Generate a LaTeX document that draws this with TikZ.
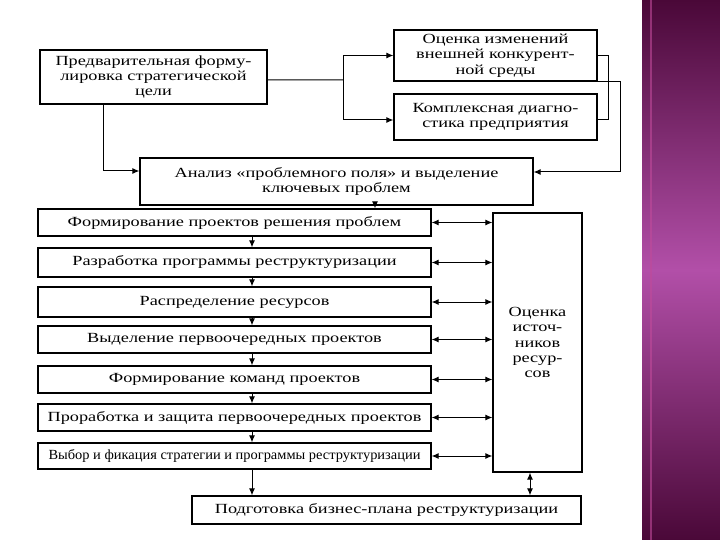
\documentclass[tikz,border=0pt]{standalone}
\usepackage{fontspec}
\usepackage{graphicx}
\usetikzlibrary{arrows.meta}
\newfontfamily\rf[FakeStretch=1.31]{Liberation Serif}
\definecolor{purpdark}{HTML}{4A0838}
\definecolor{purpmid}{HTML}{B24FA8}
\definecolor{purpline}{HTML}{C04A9A}
\tikzset{
  box/.style={draw=black, line width=1.3bp, fill=white, align=center, inner sep=1bp,
    font=\rf\fontsize{14}{15.5}\selectfont, text=black},
  conn/.style={draw=black, line width=1bp},
  arr/.style={conn, -{Latex[length=7bp,width=6bp]}},
  dbl/.style={conn, {Latex[length=7bp,width=6bp]}-{Latex[length=7bp,width=6bp]}},
}
\begin{document}
\begin{tikzpicture}[x=1bp,y=-1bp]
\useasboundingbox (0,0) rectangle (720,540);
\fill[white] (0,0) rectangle (720,540);
\shade[top color=purpdark, bottom color=purpdark, middle color=purpmid] (642,0) rectangle (720,540);
\draw[purpline, line width=2bp, opacity=0.6] (651,0) -- (651,540);

\node[box, minimum width=227bp, minimum height=54bp] (b1) at (153.5,77) {Предварительная форму-\\лировка стратегической\\цели};
\node[box, minimum width=203bp, minimum height=51bp] (b2) at (495.5,55.5) {Оценка изменений\\внешней конкурент-\\ной среды};
\node[box, minimum width=203bp, minimum height=46bp] (b3) at (495.5,117) {Комплексная диагно-\\стика предприятия};
\node[box, minimum width=393bp, minimum height=47bp] (b4) at (336.5,181.5) {Анализ «проблемного поля» и выделение\\ключевых проблем};

\node[box, minimum width=393bp, minimum height=27bp] (r1) at (234.5,222.5) {Формирование проектов решения проблем};
\node[box, minimum width=393bp, minimum height=29bp] (r2) at (234.5,262.5) {Разработка программы реструктуризации};
\node[box, minimum width=393bp, minimum height=30bp] (r3) at (234.5,302) {Распределение ресурсов};
\node[box, minimum width=393bp, minimum height=27bp] (r4) at (234.5,339.5) {Выделение первоочередных проектов};
\node[box, minimum width=393bp, minimum height=27bp] (r5) at (234.5,379.5) {Формирование команд проектов};
\node[box, minimum width=393bp, minimum height=27bp] (r6) at (234.5,417.5) {Проработка и защита первоочередных проектов};
\node[box, minimum width=393bp, minimum height=26bp] (r7) at (234.5,456) {\scalebox{0.79}[1]{Выбор и фикация стратегии и программы реструктуризации}};
\node[box, minimum width=389bp, minimum height=28bp] (r8) at (386.5,510) {Подготовка бизнес-плана реструктуризации};
\node[box, minimum width=89bp, minimum height=259bp] (oc) at (537.5,342.5) {Оценка\\источ-\\ников\\ресур-\\сов};

% left fork from b1
\coordinate (j1) at (343,80);
\draw[conn] ([yshift=-3bp]b1.east) -- (j1);
\draw[arr] (j1) |- (b2.west);
\draw[arr] (j1) |- ([yshift=-3bp]b3.west);
\coordinate (k1) at (103,0);
\draw[arr] (b1.south -| k1) |- ([yshift=10.5bp]b4.west);

% right brackets
\coordinate (q1) at (608,0);
\coordinate (q2) at (620,0);
\draw[conn] (b2.east) -- (b2.east -| q1) |- ([yshift=-3bp]b3.east);
\draw[arr] (b2.south east) -- (b2.south east -| q2) |- ([yshift=9.5bp]b4.east);

% vertical chain
\coordinate (cx) at (252,0);
\coordinate (cy) at (375,0);
\draw[arr] (b4.south -| cy) -- (r1.north -| cy);
\draw[arr] (r1.south -| cx) -- (r2.north -| cx);
\draw[arr] (r2.south -| cx) -- (r3.north -| cx);
\draw[arr] (r3.south -| cx) -- (r4.north -| cx);
\draw[arr] (r4.south -| cx) -- (r5.north -| cx);
\draw[arr] (r5.south -| cx) -- (r6.north -| cx);
\draw[arr] (r6.south -| cx) -- (r7.north -| cx);
\draw[arr] (r7.south -| cx) -- (r8.north -| cx);

% double arrows to resources box
\foreach \r in {r1,r2,r3,r4,r5,r6,r7}{
  \draw[dbl] (\r.east) -- (\r.east -| oc.west);
}
\coordinate (cz) at (530,0);
\draw[dbl] (oc.south -| cz) -- (r8.north -| cz);
\end{tikzpicture}
\end{document}
